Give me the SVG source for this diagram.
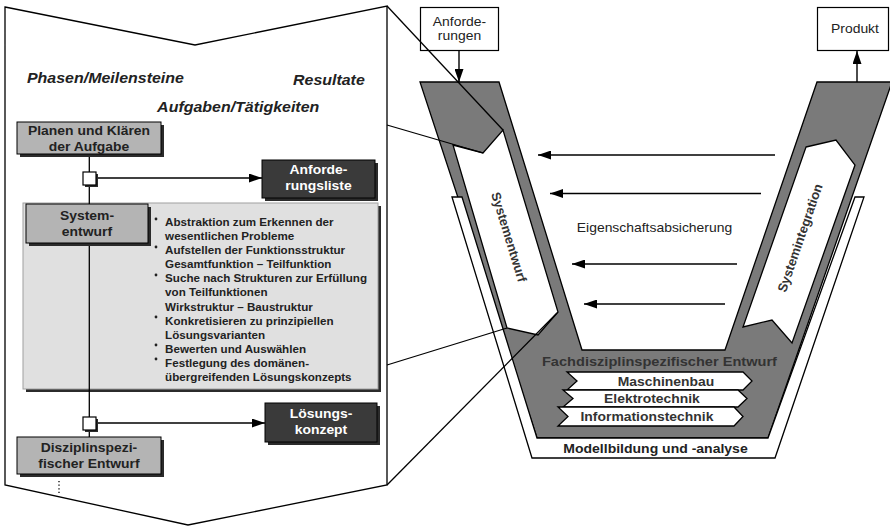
<svg xmlns="http://www.w3.org/2000/svg" width="890" height="526" viewBox="0 0 890 526">
  <defs>
    <marker id="ah" viewBox="0 0 10 10" refX="10" refY="5" markerWidth="13" markerHeight="9" markerUnits="userSpaceOnUse" preserveAspectRatio="none" orient="auto">
      <path d="M0,0 L10,5 L0,10 z" fill="#000"/>
    </marker>
    <style>
      .ln { fill: none; stroke: #000; stroke-width: 1.3; }
      .arr { fill: none; stroke: #000; stroke-width: 1.4; marker-end: url(#ah); }
      .vg { fill: #7a7a7a; stroke: #000; stroke-width: 1.3; stroke-linejoin: miter; }
      .wb { fill: #fff; stroke: #000; stroke-width: 1.3; }
      .box { fill: #b4b4b4; stroke: #000; stroke-width: 1; }
      .dark { fill: #3a3a3a; stroke: #000; stroke-width: 1; }
      .shd { fill: #2b2b2b; }
      .panel { fill: #e0e0e0; stroke: #a0a0a0; stroke-width: 1; }
      .sq { fill: #fff; stroke: #000; stroke-width: 1.2; }
      .t { font-family: "Liberation Sans", Arial, sans-serif; fill: #222; }
      .bd { font-weight: bold; }
      .it { font-style: italic; }
      .c { text-anchor: middle; }
      .w { fill: #fff; }
      .g3 { fill: #333; }
      .sx { transform-box: fill-box; transform-origin: center; transform: scaleX(1.14); }
      .sxl { transform-box: fill-box; transform-origin: left center; transform: scaleX(1.14); }
    </style>
  </defs>

  <!-- enlarged phase panel -->
  <g id="phase-panel">
    <polygon points="5,7 195,45 387,6 387,485 188,525 5,485" class="ln" stroke-width="1.5"/>
    <text class="t bd it sxl" x="27" y="83" font-size="14">Phasen/Meilensteine</text>
    <text class="t bd it sxl" x="293" y="85" font-size="14">Resultate</text>
    <text class="t bd it sxl" x="157" y="112" font-size="14">Aufgaben/Tätigkeiten</text>
  </g>

  <g id="task-panel">
    <rect x="26" y="206" width="355" height="186" class="shd"/>
    <rect x="23" y="203" width="355" height="186" class="panel"/>
    <g fill="#222">
      <circle cx="156" cy="219" r="1.4"/>
      <circle cx="156" cy="247" r="1.4"/>
      <circle cx="156" cy="275" r="1.4"/>
      <circle cx="156" cy="317" r="1.4"/>
      <circle cx="156" cy="345" r="1.4"/>
      <circle cx="156" cy="359" r="1.4"/>
    </g>
    <text class="t bd sxl" font-size="10.2">
      <tspan x="165" y="226">Abstraktion zum Erkennen der</tspan>
      <tspan x="165" y="240.1">wesentlichen Probleme</tspan>
      <tspan x="165" y="254.2">Aufstellen der Funktionsstruktur</tspan>
      <tspan x="165" y="268.3">Gesamtfunktion – Teilfunktion</tspan>
      <tspan x="165" y="282.4">Suche nach Strukturen zur Erfüllung</tspan>
      <tspan x="165" y="296.5">von Teilfunktionen</tspan>
      <tspan x="165" y="310.6">Wirkstruktur – Baustruktur</tspan>
      <tspan x="165" y="324.7">Konkretisieren zu prinzipiellen</tspan>
      <tspan x="165" y="338.8">Lösungsvarianten</tspan>
      <tspan x="165" y="352.9">Bewerten und Auswählen</tspan>
      <tspan x="165" y="367">Festlegung des domänen-</tspan>
      <tspan x="165" y="381.1">übergreifenden Lösungskonzepts</tspan>
    </text>
  </g>

  <!-- flow connectors of the phase panel -->
  <g id="phase-connectors">
    <line x1="89.3" y1="154" x2="89.3" y2="417" class="ln"/>
    <line x1="89.3" y1="430" x2="89.3" y2="437" class="ln"/>
    <line x1="96" y1="178" x2="262" y2="178" class="arr"/>
    <line x1="96" y1="423" x2="265" y2="423" class="arr"/>
    <line x1="59" y1="481" x2="59" y2="495" class="ln" stroke-width="1.2" stroke-dasharray="1.2 2.4"/>
  </g>

  <g id="node-planen">
    <rect x="20" y="125" width="144" height="32" class="shd"/>
    <rect x="17" y="122" width="144" height="32" class="box"/>
    <text class="t bd c sx" font-size="12.2"><tspan x="89" y="135.5">Planen und Klären</tspan><tspan x="89" y="151">der Aufgabe</tspan></text>
  </g>

  <g id="node-square-1">
    <rect x="85" y="174" width="13" height="13" class="shd"/>
    <rect x="83" y="172" width="13" height="13" class="sq"/>
  </g>

  <g id="node-anforderungsliste">
    <rect x="265" y="163" width="113" height="38" class="shd"/>
    <rect x="262" y="160" width="113" height="38" class="dark"/>
    <text class="t bd c w sx" font-size="12.2"><tspan x="318.5" y="174.5">Anforde-</tspan><tspan x="318.5" y="190">rungsliste</tspan></text>
  </g>

  <g id="node-systementwurf">
    <rect x="29" y="207" width="122" height="39" class="shd"/>
    <rect x="26" y="204" width="122" height="39" class="box"/>
    <text class="t bd c sx" font-size="12.2"><tspan x="87" y="220.5">System-</tspan><tspan x="87" y="236.5">entwurf</tspan></text>
  </g>

  <g id="node-square-2">
    <rect x="85" y="419" width="13" height="13" class="shd"/>
    <rect x="83" y="417" width="13" height="13" class="sq"/>
  </g>

  <g id="node-loesungskonzept">
    <rect x="268" y="406" width="112" height="39" class="shd"/>
    <rect x="265" y="403" width="112" height="39" class="dark"/>
    <text class="t bd c w sx" font-size="12.2"><tspan x="321" y="418.5">Lösungs-</tspan><tspan x="321" y="434">konzept</tspan></text>
  </g>

  <g id="node-disziplin">
    <rect x="20" y="440" width="144" height="37" class="shd"/>
    <rect x="17" y="437" width="144" height="37" class="box"/>
    <text class="t bd c sx" font-size="12.2"><tspan x="89" y="452.3">Disziplinspezi-</tspan><tspan x="89" y="468.3">fischer Entwurf</tspan></text>
  </g>

  <!-- V model -->
  <g id="node-anforderungen">
    <rect x="420.5" y="7.5" width="78" height="43" fill="#fff" stroke="#000" stroke-width="1.2"/>
    <text class="t c sx" font-size="12.2" fill="#333"><tspan x="459.5" y="26">Anforde-</tspan><tspan x="459.5" y="40.5">rungen</tspan></text>
  </g>

  <g id="node-produkt">
    <rect x="817.5" y="7.5" width="71" height="43" fill="#fff" stroke="#000" stroke-width="1.2"/>
    <text class="t c sx" x="855" y="33" font-size="12.2" fill="#333">Produkt</text>
  </g>

  <g id="node-v-model">
    <polygon points="420,82 499,82 582,350 725,350 817,82 892,82 768,438 537,438" class="vg"/>
    <polygon points="452,197 532,458 775,458 864,197 855,197 768,438 537,438 462,197" class="wb"/>
    <text class="t bd c sx" x="655.5" y="453" font-size="12.3">Modellbildung und -analyse</text>
    <text class="t bd c g3 sx" x="659.5" y="366" font-size="12.8">Fachdisziplinspezifischer Entwurf</text>
  </g>

  <g id="node-systementwurf-band">
    <polygon points="453,145 483,153 503,130 558,312 538,335 507,328" class="wb"/>
    <text class="t bd c g3" font-size="13" transform="translate(509,237) rotate(73)" y="4.5">Systementwurf</text>
  </g>

  <g id="node-systemintegration-band">
    <polygon points="806,147 836,140 855,165 792,343 772,320 743,327" class="wb"/>
    <text class="t bd c g3" font-size="13" transform="translate(800,238) rotate(-71)" y="4.5">Systemintegration</text>
  </g>

  <g id="node-maschinenbau">
    <polygon points="567,372 743,372 752,381 743,390 567,390 577,381" class="wb" stroke-width="1.2"/>
    <text class="t bd c g3 sx" x="666" y="386" font-size="12.2">Maschinenbau</text>
  </g>
  <g id="node-elektrotechnik">
    <polygon points="563,390 738,390 747,398.5 738,407 563,407 573,398.5" class="wb" stroke-width="1.2"/>
    <text class="t bd c g3 sx" x="652" y="403.5" font-size="12.2">Elektrotechnik</text>
  </g>
  <g id="node-informationstechnik">
    <polygon points="558,407 734,407 743,416.5 734,426 558,426 568,416.5" class="wb" stroke-width="1.2"/>
    <text class="t bd c g3 sx" x="647" y="421" font-size="12.2">Informationstechnik</text>
  </g>

  <g id="node-eigenschaftsabsicherung">
    <text class="t c sx" x="654.5" y="232" font-size="12.2" fill="#333">Eigenschaftsabsicherung</text>
  </g>

  <!-- connectors: input/output arrows, property assurance arrows, zoom lines -->
  <g id="connectors">
    <line x1="459" y1="51" x2="459" y2="82" class="arr"/>
    <line x1="857" y1="82" x2="857" y2="51" class="arr"/>
    <line x1="775" y1="155" x2="538" y2="155" class="arr"/>
    <line x1="761" y1="193.5" x2="550" y2="193.5" class="arr"/>
    <line x1="737" y1="264" x2="572" y2="264" class="arr"/>
    <line x1="725" y1="304" x2="584" y2="304" class="arr"/>
    <line x1="387" y1="6" x2="503" y2="130" class="ln"/>
    <line x1="387" y1="125" x2="483" y2="153" class="ln"/>
    <line x1="387" y1="365" x2="507" y2="328" class="ln"/>
    <line x1="387" y1="485" x2="557" y2="313" class="ln"/>
  </g>
</svg>
